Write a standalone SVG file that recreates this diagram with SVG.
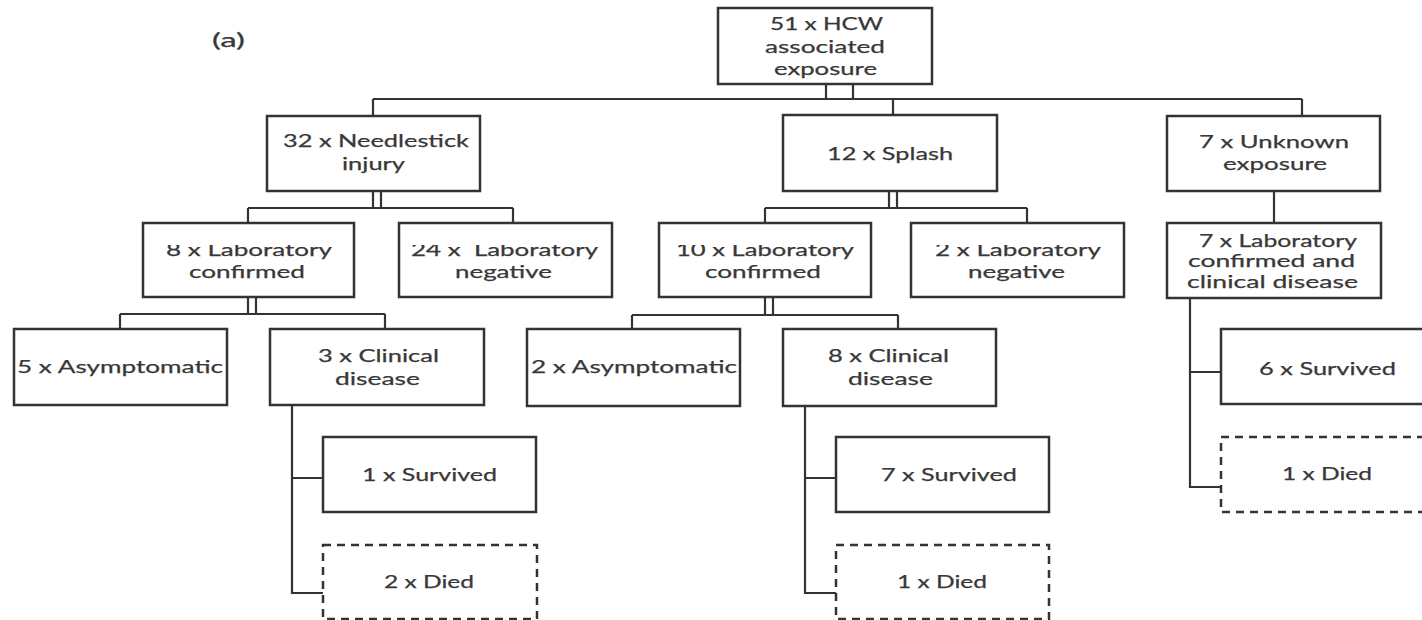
<svg xmlns="http://www.w3.org/2000/svg" width="1422" height="620" viewBox="0 0 1422 620">
<style>
.box{fill:#fff;stroke:#333;stroke-width:2.5}
.dash{fill:#fff;stroke:#333;stroke-width:2.5;stroke-dasharray:8 6}
.ln{fill:none;stroke:#333;stroke-width:2.2}
text{font-family:Lato,"Liberation Sans",sans-serif;font-size:18px;fill:#383838;stroke:#383838;stroke-width:0.25}
</style>
<defs>
<clipPath id="clipTop" clipPathUnits="userSpaceOnUse"><rect x="0" y="245" width="1422" height="60"/></clipPath>
</defs>
<rect width="1422" height="620" fill="#fff"/>
<text x="212" y="47" textLength="33" lengthAdjust="spacingAndGlyphs" style="font-size:19.5px">(a)</text>
<g id="connectors">
<path class="ln" d="M826 84V99M853 84V99M826 99H853"/>
<path class="ln" d="M373 99H1302M373 99V116M893 99V115M1302 99V116"/>
<path class="ln" d="M373 191V208M381 191V208M248 208H513M248 208V223M513 208V223"/>
<path class="ln" d="M889 191V208M897 191V208M765 208H1027M765 208V223M1027 208V223"/>
<path class="ln" d="M1274 191V223"/>
<path class="ln" d="M248 297V314M256 297V314M120 314H385M120 314V329M385 314V329"/>
<path class="ln" d="M765 297V315M773 297V315M632 315H898M632 315V329M898 315V329"/>
<path class="ln" d="M292 405V593H323M292 478H323"/>
<path class="ln" d="M805 406V593H836M805 478H836"/>
<path class="ln" d="M1190 298V487H1221M1190 372H1221"/>
</g>
<g id="n-root"><rect class="box" x="718" y="8" width="214" height="76"/>
<text x="770" y="30" textLength="113" lengthAdjust="spacingAndGlyphs">51 x HCW</text>
<text x="765" y="53" textLength="120" lengthAdjust="spacingAndGlyphs">associated</text>
<text x="774" y="75" textLength="103" lengthAdjust="spacingAndGlyphs">exposure</text></g>
<g id="n-needle"><rect class="box" x="267" y="116" width="213" height="75"/>
<text x="283" y="147" textLength="186" lengthAdjust="spacingAndGlyphs">32 x Needlestick</text>
<text x="342" y="170" textLength="63" lengthAdjust="spacingAndGlyphs">injury</text></g>
<g id="n-splash"><rect class="box" x="783" y="115" width="214" height="76"/>
<text x="827" y="160" textLength="126" lengthAdjust="spacingAndGlyphs">12 x Splash</text></g>
<g id="n-unknown"><rect class="box" x="1167" y="116" width="213" height="75"/>
<text x="1199" y="148" textLength="150" lengthAdjust="spacingAndGlyphs">7 x Unknown</text>
<text x="1223" y="170" textLength="104" lengthAdjust="spacingAndGlyphs">exposure</text></g>
<g id="n-lab8"><rect class="box" x="143" y="223" width="211" height="74"/>
<text x="166" y="256" textLength="166" lengthAdjust="spacingAndGlyphs" clip-path="url(#clipTop)">8 x Laboratory</text>
<text x="189" y="278" textLength="116" lengthAdjust="spacingAndGlyphs">confirmed</text></g>
<g id="n-lab24"><rect class="box" x="399" y="223" width="213" height="74"/>
<text x="411" y="256" textLength="187" lengthAdjust="spacingAndGlyphs" clip-path="url(#clipTop)" xml:space="preserve">24 x  Laboratory</text>
<text x="455" y="278" textLength="97" lengthAdjust="spacingAndGlyphs">negative</text></g>
<g id="n-lab10"><rect class="box" x="659" y="223" width="212" height="74"/>
<text x="676" y="256" textLength="178" lengthAdjust="spacingAndGlyphs" clip-path="url(#clipTop)">10 x Laboratory</text>
<text x="705" y="278" textLength="116" lengthAdjust="spacingAndGlyphs">confirmed</text></g>
<g id="n-lab2"><rect class="box" x="911" y="223" width="213" height="74"/>
<text x="935" y="256" textLength="166" lengthAdjust="spacingAndGlyphs" clip-path="url(#clipTop)">2 x Laboratory</text>
<text x="968" y="278" textLength="97" lengthAdjust="spacingAndGlyphs">negative</text></g>
<g id="n-lab7"><rect class="box" x="1167" y="223" width="214" height="75"/>
<text x="1199" y="247" textLength="158" lengthAdjust="spacingAndGlyphs">7 x Laboratory</text>
<text x="1188" y="267" textLength="167" lengthAdjust="spacingAndGlyphs">confirmed and</text>
<text x="1187" y="288" textLength="171" lengthAdjust="spacingAndGlyphs">clinical disease</text></g>
<g id="n-asym5"><rect class="box" x="14" y="329" width="213" height="76"/>
<text x="17" y="373" textLength="206" lengthAdjust="spacingAndGlyphs">5 x Asymptomatic</text></g>
<g id="n-clin3"><rect class="box" x="270" y="329" width="214" height="76"/>
<text x="318" y="362" textLength="121" lengthAdjust="spacingAndGlyphs">3 x Clinical</text>
<text x="335" y="385" textLength="85" lengthAdjust="spacingAndGlyphs">disease</text></g>
<g id="n-asym2"><rect class="box" x="527" y="329" width="213" height="77"/>
<text x="531" y="373" textLength="206" lengthAdjust="spacingAndGlyphs">2 x Asymptomatic</text></g>
<g id="n-clin8"><rect class="box" x="783" y="329" width="213" height="77"/>
<text x="828" y="362" textLength="121" lengthAdjust="spacingAndGlyphs">8 x Clinical</text>
<text x="848" y="385" textLength="85" lengthAdjust="spacingAndGlyphs">disease</text></g>
<g id="n-surv1"><rect class="box" x="323" y="437" width="213" height="75"/>
<text x="362" y="481" textLength="135" lengthAdjust="spacingAndGlyphs">1 x Survived</text></g>
<g id="n-died2"><rect class="dash" x="323" y="545" width="214" height="74"/>
<text x="384" y="588" textLength="90" lengthAdjust="spacingAndGlyphs">2 x Died</text></g>
<g id="n-surv7"><rect class="box" x="836" y="437" width="213" height="75"/>
<text x="881" y="481" textLength="136" lengthAdjust="spacingAndGlyphs">7 x Survived</text></g>
<g id="n-died1"><rect class="dash" x="836" y="545" width="213" height="74"/>
<text x="897" y="588" textLength="90" lengthAdjust="spacingAndGlyphs">1 x Died</text></g>
<g id="n-surv6"><rect class="box" x="1221" y="329" width="212" height="75"/>
<text x="1259" y="375" textLength="137" lengthAdjust="spacingAndGlyphs">6 x Survived</text></g>
<g id="n-died1b"><rect class="dash" x="1221" y="437" width="212" height="75"/>
<text x="1282" y="480" textLength="90" lengthAdjust="spacingAndGlyphs">1 x Died</text></g>
</svg>
